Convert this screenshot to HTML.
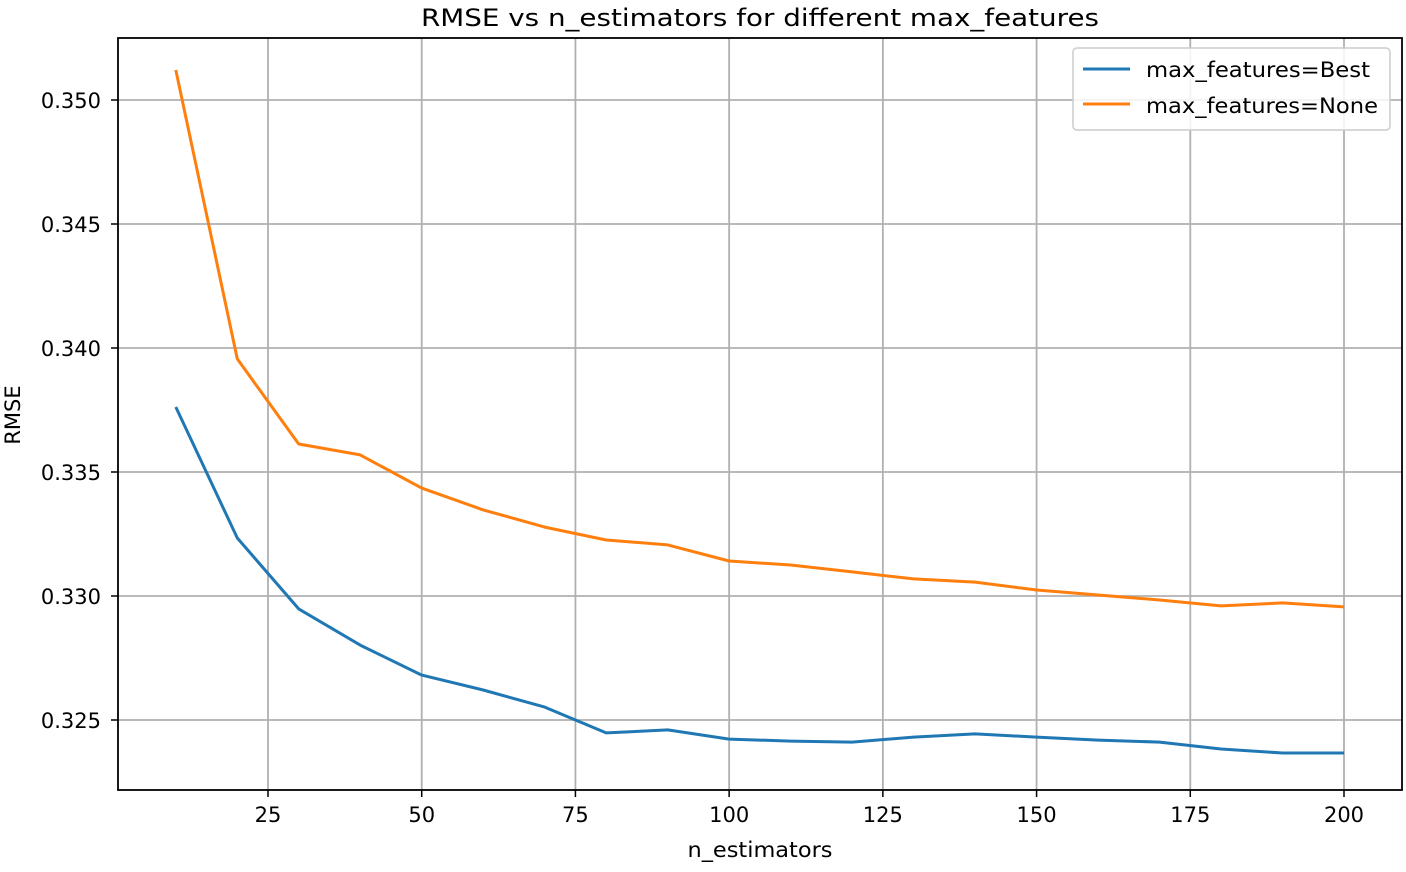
<!DOCTYPE html>
<html><head><meta charset="utf-8"><style>
body{margin:0;background:#fff;}
svg text{font-family:"DejaVu Sans","Liberation Sans",sans-serif;fill:#000;}
</style></head><body>
<svg id="chart" width="1406" height="867" xmlns="http://www.w3.org/2000/svg">
<text x="760" y="26" font-size="24" text-anchor="middle" textLength="678" lengthAdjust="spacingAndGlyphs">RMSE vs n_estimators for different max_features</text>
<g id="grid"></g><g id="axes"></g><g id="lines"></g>
<rect x="118" y="38" width="1284" height="752" fill="none" stroke="#000" stroke-width="1.8"/>
<text x="760" y="857" font-size="21" text-anchor="middle" textLength="145" lengthAdjust="spacingAndGlyphs">n_estimators</text>
<text x="20" y="415" font-size="21" text-anchor="middle" transform="rotate(-90 20 415)">RMSE</text>
<g>
<rect x="1073" y="48" width="317" height="82" rx="4" fill="#fff" fill-opacity="0.85" stroke="#ccc" stroke-width="1.5"/>
<line x1="1083" y1="69" x2="1130" y2="69" stroke="#1f77b4" stroke-width="3"/>
<text x="1146" y="77" font-size="21" textLength="224" lengthAdjust="spacingAndGlyphs">max_features=Best</text>
<line x1="1083" y1="104" x2="1130" y2="104" stroke="#ff7f0e" stroke-width="3"/>
<text x="1146" y="113" font-size="21" textLength="232" lengthAdjust="spacingAndGlyphs">max_features=None</text>
</g>
</svg>
<script>
const nEstimators=[10,20,30,40,50,60,70,80,90,100,110,120,130,140,150,160,170,180,190,200];
const rmseBest=[0.33762,0.33234,0.32948,0.32802,0.32681,0.32621,0.32552,0.32448,0.3246,0.32423,0.32415,0.32411,0.32431,0.32444,0.32431,0.32419,0.32411,0.32383,0.32367,0.32367];
const rmseNone=[0.35121,0.33956,0.33613,0.33569,0.33435,0.33347,0.33278,0.33226,0.33206,0.33141,0.33125,0.33097,0.33069,0.33056,0.33024,0.33004,0.32984,0.3296,0.32972,0.32956];
const xTicks=[25,50,75,100,125,150,175,200];
const yTicks=[0.325,0.330,0.335,0.340,0.345,0.350];
const NS="http://www.w3.org/2000/svg";
const xs=v=>268+(v-25)*(1344-268)/175;
const ys=v=>720-(v-0.325)*(620/0.025);
const grid=document.getElementById('grid'),axes=document.getElementById('axes'),lines=document.getElementById('lines');
function mk(t,a,p){const e=document.createElementNS(NS,t);for(const k in a)e.setAttribute(k,a[k]);p.appendChild(e);return e;}
xTicks.forEach(t=>{const x=xs(t);
const g=mk('line',{x1:x,x2:x,y1:38,y2:790,stroke:'#b0b0b0','stroke-width':1.8},grid);


mk('line',{x1:x,x2:x,y1:790,y2:797,stroke:'#000','stroke-width':1.5},axes);
const l=mk('text',{x:x,y:822,'font-size':21,'text-anchor':'middle'},axes);l.textContent=t;

});
yTicks.forEach(t=>{const y=ys(t);
const g=mk('line',{x1:118,x2:1402,y1:y,y2:y,stroke:'#b0b0b0','stroke-width':1.8},grid);


mk('line',{x1:111,x2:118,y1:y,y2:y,stroke:'#000','stroke-width':1.5},axes);
const l=mk('text',{x:101,y:y+8,'font-size':21,'text-anchor':'end'},axes);l.textContent=t.toFixed(3);

});
function series(vals,color,name){const d=nEstimators.map((n,i)=>(i?'L':'M')+xs(n).toFixed(1)+','+ys(vals[i]).toFixed(1)).join(' ');
const p=mk('path',{d:d,fill:'none',stroke:color,'stroke-width':3,'stroke-linejoin':'round'},lines);

}
series(rmseBest,'#1f77b4','line-max-features-best');
series(rmseNone,'#ff7f0e','line-max-features-none');
</script>
</body></html>
